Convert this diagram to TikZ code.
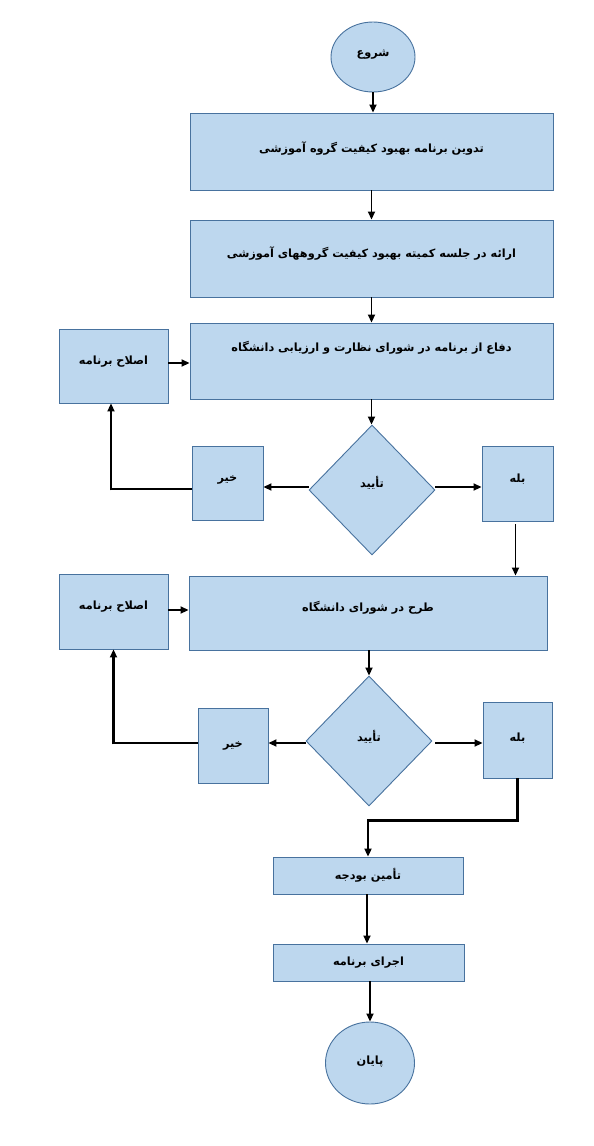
\documentclass[tikz,border=0pt]{standalone}
\usepackage{fontspec}
\usetikzlibrary{shapes.geometric,arrows.meta}
\TeXXeTstate=1
\newfontfamily\fa[Script=Arabic]{DejaVu Sans}
\newcommand{\rtl}[1]{\beginR#1\endR}
\definecolor{shfill}{RGB}{189,215,238}
\definecolor{shline}{RGB}{72,114,158}
\tikzset{
  shp/.style={draw=shline, fill=shfill, line width=0.9pt, inner sep=0pt,
    font=\fa\bfseries\fontsize{11.3}{13}\selectfont, text height=9pt, text depth=10pt},
  boxs/.style={shp, rectangle},
  ovals/.style={shp, ellipse},
  decis/.style={shp, diamond},
  conn/.style={line width=1.8pt, -{Triangle[length=8pt,width=7pt]}},
  thk/.style={line width=2.8pt},
}
\begin{document}
\begin{tikzpicture}[x=1pt,y=-1pt]
\useasboundingbox (0,0) rectangle (594,1146);
\node[ovals, minimum width=84, minimum height=70] (start) at (373,57) {\rtl{شروع}};
\node[boxs, minimum width=363, minimum height=77, text depth=8pt] (b1) at (371.5,151.5) {\rtl{تدوین برنامه بهبود کیفیت گروه آموزشی}};
\node[boxs, minimum width=363, minimum height=77, text depth=12pt] (b2) at (371.5,258.5) {\rtl{ارائه در جلسه کمیته بهبود کیفیت گروههای آموزشی}};
\node[boxs, minimum width=363, minimum height=76, text depth=28pt] (b3) at (371.5,361) {\rtl{دفاع از برنامه در شورای نظارت و ارزیابی دانشگاه}};
\node[boxs, minimum width=109, minimum height=74, text depth=12pt] (e1) at (113.5,366) {\rtl{اصلاح برنامه}};
\node[decis, minimum width=126, minimum height=130, text depth=14pt] (d1) at (372,490) {\rtl{تأیید}};
\node[boxs, minimum width=71, minimum height=74, text depth=12pt] (k1) at (227.5,483) {\rtl{خیر}};
\node[boxs, minimum width=71, minimum height=75, text depth=11pt] (y1) at (517.5,483.5) {\rtl{بله}};
\node[boxs, minimum width=358, minimum height=74, text depth=12pt] (b4) at (368,613) {\rtl{طرح در شورای دانشگاه}};
\node[boxs, minimum width=109, minimum height=75, text depth=13pt] (e2) at (113.5,611.5) {\rtl{اصلاح برنامه}};
\node[decis, minimum width=126, minimum height=130, text depth=8pt] (d2) at (369,741) {\rtl{تأیید}};
\node[boxs, minimum width=70, minimum height=75, text depth=5pt] (k2) at (233,745.5) {\rtl{خیر}};
\node[boxs, minimum width=69, minimum height=76, text depth=6pt] (y2) at (517.5,740) {\rtl{بله}};
\node[boxs, minimum width=190, minimum height=37, text depth=2pt] (b5) at (368,875.5) {\rtl{تأمین بودجه}};
\node[boxs, minimum width=191, minimum height=37, text depth=3pt] (b6) at (368.5,962.5) {\rtl{اجرای برنامه}};
\node[ovals, minimum width=89, minimum height=82, text depth=6pt] (end) at (370,1063) {\rtl{پایان}};

\draw[conn] (start.south) -- (start.south |- b1.north);
\draw[conn] (b1.south) -- (b2.north);
\draw[conn] (b2.south) -- (b3.north);
\draw[conn] (b3.south) -- (b3.south |- d1.north);
\draw[conn] ([yshift=3]d1.west) -- ([yshift=3]d1.west -| k1.east);
\draw[conn] ([yshift=3]d1.east) -- ([yshift=3]d1.east -| y1.west);
\draw[conn] ([xshift=-2,yshift=-3]y1.south) -- ([xshift=-2]y1.south |- b4.north);
\coordinate (f1) at ([yshift=-6]k1.west);
\coordinate (f1c) at ([xshift=-2.5]e1.south |- f1);
\draw[thk] (f1) -- ([xshift=-1]f1c);
\draw[conn, line width=2.2pt] ([yshift=-1.4]f1c) -- ([xshift=-2.5]e1.south);
\draw[conn] ([yshift=3]e1.east) -- ([yshift=3]e1.east -| b3.west);
\draw[conn] ([xshift=1]b4.south) -- ([xshift=1]b4.south |- d2.north);
\draw[conn] ([yshift=-2]d2.west) -- ([yshift=-2]d2.west -| k2.east);
\draw[conn] ([xshift=3,yshift=-2]d2.east) -- ([yshift=-2]d2.east -| y2.west);
\coordinate (f2) at ([yshift=2.5]k2.west);
\coordinate (f2c) at (e2.south |- f2);
\draw[thk] (f2) -- ([xshift=-1]f2c);
\draw[conn, line width=2.2pt] ([yshift=-1.4]f2c) -- (e2.south);
\draw[conn] ([yshift=1.5]e2.east) -- ([yshift=1.5]e2.east -| b4.west);
\coordinate (turn) at ([yshift=-42]y2.south);
\coordinate (drop) at ([yshift=9]b5.north);
\draw[thk] (y2.south) -- (turn) -| (drop);
\draw[conn, line width=2.2pt] ([yshift=1.4]drop) -- (b5.north);
\draw[conn] ([xshift=-1]b5.south) -- ([xshift=-1]b5.south |- b6.north);
\draw[conn] ([xshift=1.5]b6.south) -- ([xshift=1.5]b6.south |- end.north);
\end{tikzpicture}
\end{document}
